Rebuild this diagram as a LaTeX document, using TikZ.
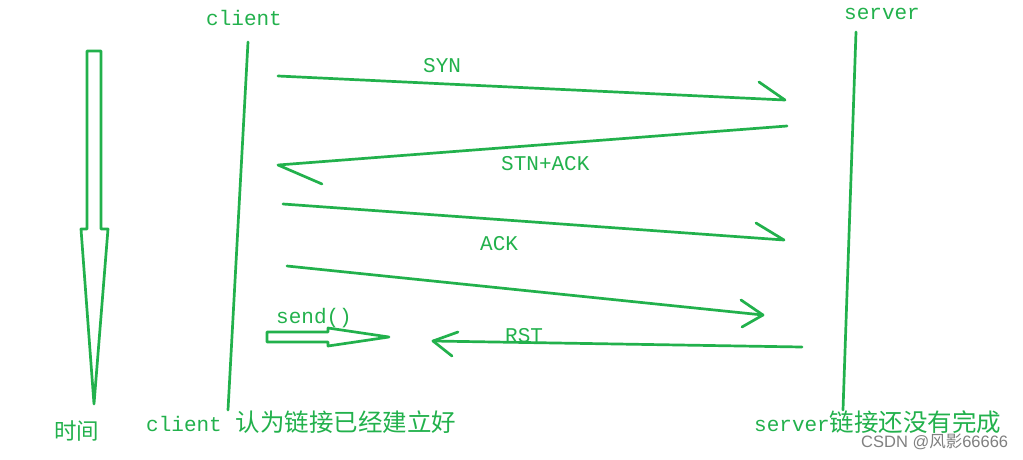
\documentclass[tikz,border=0pt]{standalone}
\usepackage{fontspec}
\newfontfamily\mono{Liberation Mono}
\newfontfamily\cjk{Noto Sans CJK SC}
\newfontfamily\wm{Liberation Sans}
\definecolor{pg}{RGB}{34,177,76}
\begin{document}
\begin{tikzpicture}[x=1pt,y=-1pt,
  ln/.style={draw=pg,line width=2.7pt,line cap=round,line join=round},
  lbl/.style={text=pg,inner sep=0pt,anchor=base west,font=\mono\fontsize{21}{24}\selectfont},
  clbl/.style={text=pg,inner sep=0pt,anchor=base west,font=\cjk\fontsize{22.5}{26}\selectfont}]
\useasboundingbox (0,0) rectangle (1023,459);
\fill[white] (0,0) rectangle (1023,459);
% labels
\node[lbl] (client) at (206,25) {client};
\node[lbl] (server) at (844,19) {server};
\node[lbl] (syn) at (423,72) {SYN};
\node[lbl] (stn) at (501,170) {STN+ACK};
\node[lbl] (ack) at (480,250) {ACK};
\node[lbl] (send) at (276,323) {send()};
\node[lbl] (rst) at (505,342) {RST};
\node[clbl] (time) at (54,439) {时间};
\node[lbl] (cnote) at (146,431) {client\hspace{14pt}{\cjk\fontsize{24.5}{26}\selectfont 认为链接已经建立好}};
\node[lbl] (snote) at (754,431) {server{\cjk\fontsize{24.5}{26}\selectfont 链接还没有完成}};
\node[inner sep=0pt,anchor=base west,text=black!50,font=\wm\fontsize{16.5}{18}\selectfont] (wm) at (861,447) {CSDN @{\cjk 风影}66666};
% lifelines
\coordinate (c1) at (248,42); \coordinate (c2) at (228,410);
\coordinate (s1) at (856,32); \coordinate (s2) at (843,410);
\draw[ln] (c1) -- (c2);
\draw[ln] (s1) -- (s2);
% SYN
\coordinate (a1) at (278,76); \coordinate (a2) at (785,100); \coordinate (a3) at (759,82);
\draw[ln] (a1) -- (a2) -- (a3);
% STN+ACK
\coordinate (b1) at (787,126); \coordinate (b2) at (278,165); \coordinate (b3) at (322,184);
\draw[ln] (b1) -- (b2) -- (b3);
% ACK
\coordinate (d1) at (283,204); \coordinate (d2) at (784,240); \coordinate (d3) at (756,223);
\draw[ln] (d1) -- (d2) -- (d3);
% fourth
\coordinate (e1) at (287,266); \coordinate (e2) at (763,315); \coordinate (e3) at (741,300); \coordinate (e4) at (742,327);
\draw[ln] (e1) -- (e2);
\draw[ln] (e3) -- (e2) -- (e4);
% RST
\coordinate (r1) at (802,347); \coordinate (r2) at (433,341); \coordinate (r3) at (458,332); \coordinate (r4) at (452,356);
\draw[ln] (r1) -- (r2);
\draw[ln] (r3) -- (r2) -- (r4);
% send block arrow
\draw[ln] (267,332) -- (328,332) -- (328,328) -- (389,337) -- (328,346) -- (328,342) -- (267,342) -- cycle;
% time arrow
\draw[ln] (87,51) -- (101,51) -- (101,229) -- (108,229) -- (94,404) -- (81,229) -- (87,229) -- cycle;
\end{tikzpicture}
\end{document}
